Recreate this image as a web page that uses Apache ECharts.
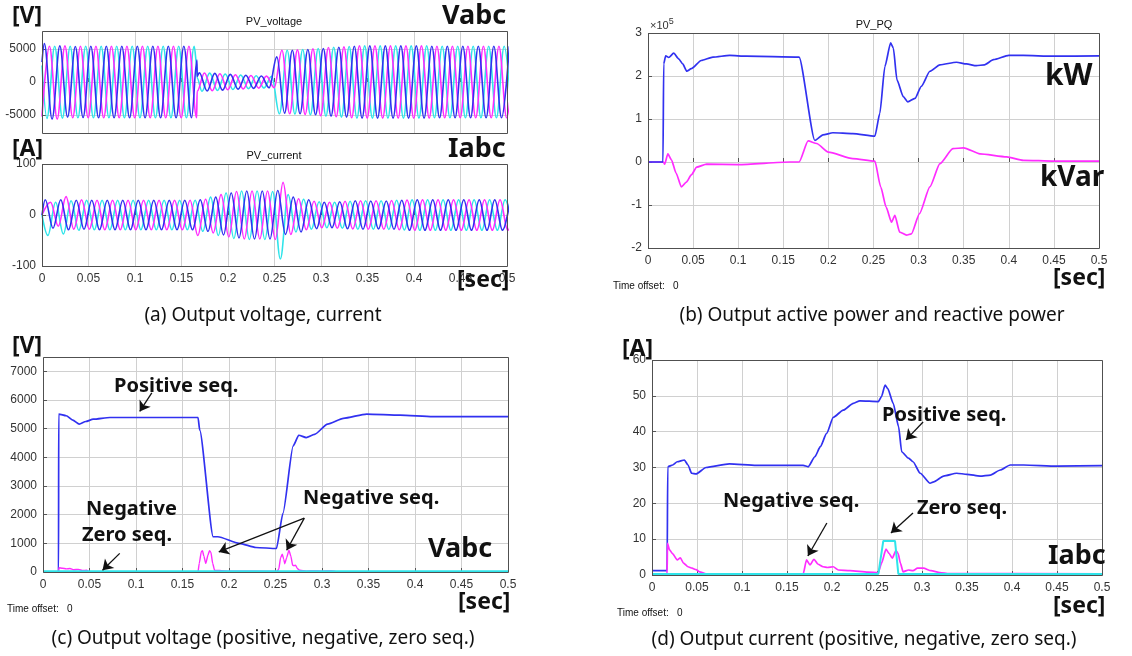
<!DOCTYPE html>
<html>
<head>
<meta charset="utf-8">
<script src="https://cdn.jsdelivr.net/npm/echarts@6/dist/echarts.min.js"></script>
<style>
  html, body { margin: 0; padding: 0; background: #fff; }
  #chart { width: 1132px; height: 656px; }
</style>
</head>
<body>
<div id="chart"></div>
<script>

// (a) three-phase waveforms (60 Hz), kept as successive half-cycle peaks
const HALF_CYCLE = 1 / 120

// PV_voltage [V]
const voltStart = [3000, -5200, 2500]          // value at t = 0 for phase a, b, c
const voltFirstPeak = [0.0025, 0.0080, 0.0053] // time of first listed peak
const voltPeaksA = [
  5800, -5600, 5450, -5300, 5350, -5350, 5400, -5400, 5400, -5400, 5400, -5400, 5400, -5400, 5400, -5400, 5400, -5400, 5400, -5400,
  1400, -1350, 1300, -1230, 1150, -1080, 1020, -960, 910, -870,
  3800, -4700, 4800, -4800, 4900, -4950, 5050, -5150, 5250, -5300,
  5400, -5450, 5450, -5450, 5450, -5450, 5450, -5450, 5450, -5450,
  5400, -5400, 5400, -5400, 5400, -5400, 5400, -5400, 5400, -5400, 5400
]
const voltPeaksB = [
  5400, -5600, 5450, -5400, 5400, -5400, 5400, -5400, 5400, -5400, 5400, -5400, 5400, -5400, 5400, -5400, 5400, -5400, 5400, -5400,
  1370, -1320, 1250, -1180, 1100, -1040, 980, -920, 880, -860,
  4800, -4800, 4850, -4900, 5000, -5100, 5200, -5250, 5300, -5400,
  5450, -5450, 5450, -5450, 5450, -5450, 5450, -5450, 5450, -5450,
  5400, -5400, 5400, -5400, 5400, -5400, 5400, -5400, 5400, -5400, 5400
]
const voltPeaksC = [
  -5500, 5400, -5450, 5400, -5400, 5400, -5400, 5400, -5400, 5400, -5400, 5400, -5400, 5400, -5400, 5400, -5400, 5400, -5400, 5400,
  -1400, 1340, -1280, 1200, -1130, 1060, -1000, 940, -890, 860,
  -4800, 4800, -4850, 4900, -4950, 5050, -5150, 5250, -5300, 5350,
  -5450, 5450, -5450, 5450, -5450, 5450, -5450, 5450, -5450, 5450,
  -5400, 5400, -5400, 5400, -5400, 5400, -5400, 5400, -5400, 5400, -5400
]
// the sag starts abruptly: value just before / just after the cut
const voltCutA = [[0.1666, 3300], [0.1668, 850]]
const voltCutB = [[0.1666, -5400], [0.1668, -1400]]
const voltCutC = [[0.1666, 2300], [0.1668, 600]]

// PV_current [A]
const currStart = [0, 0, 0]
const currFirstPeak = [0.0035, 0.0092, 0.0063]
const currPeaksA = [
  30, -26, 30, -29, 29, -28, 29, -29, 29, -29, 29, -29, 29, -29, 29, -29, 29, -29, 29, -29,
  30, -32, 35, -39, 43, -45, 47, -47, 47, -47,
  48, -38, 35, -33, 30, -27, 25, -25, 26, -27,
  28, -28, 27.5, -27.5, 27.5, -28, 29, -30, 30, -30,
  30, -30, 30, -30, 30, -30, 30, -30, 30, -30, 30
]
const currPeaksB = [
  25, -22, 36, -28, 30, -28, 29, -29, 29, -29, 29, -29, 29, -29, 29, -29, 29, -29, 29, -40,
  31, -35, 40, -43, 46, -47, 47, -47, 47, -48,
  64, -38, 32, -29, 27, -25, 25, -26, 27, -27.5,
  28, -28, 28, -28, 28.5, -29, 29.5, -30, 30, -30,
  30, -30, 30, -30, 30, -30, 30, -30, 30, -30, 30
]
const currPeaksC = [
  -40, 25, -37, 28, -30, 29, -29, 29, -29, 29, -29, 29, -29, 29, -29, 29, -29, 29, -29, 29,
  -32, 35, -40, 43, -46, 47, -48, 47, -48, 46,
  -86, 40, -33, 31, -28, 26, -25, 25, -26, 27,
  -28, 28, -28, 28, -28.5, 29, -29.5, 30, -30, 30,
  -30, 30, -30, 30, -30, 30, -30, 30, -30, 30, -30
]

// (b) PV_PQ, in units of 1e5
const pTime = [0, 0.0166, 0.0174, 0.0196, 0.023, 0.0285, 0.034, 0.0385, 0.043, 0.048,
  0.059, 0.072, 0.0906, 0.109, 0.1675, 0.185, 0.194, 0.205, 0.227, 0.2515,
  0.257, 0.2626, 0.269, 0.272, 0.276, 0.283, 0.288, 0.296, 0.303, 0.3125,
  0.3236, 0.342, 0.353, 0.364, 0.373, 0.383, 0.4, 0.416, 0.449, 0.5]
const pValue = [0, 0, 2.28, 2.47, 2.43, 2.53, 2.4, 2.28, 2.11, 2.17,
  2.36, 2.44, 2.48, 2.46, 2.44, 0.5, 0.63, 0.68, 0.66, 0.6,
  1.13, 2.22, 2.77, 2.65, 1.91, 1.52, 1.4, 1.48, 1.76, 2.11,
  2.26, 2.32, 2.28, 2.24, 2.26, 2.38, 2.48, 2.48, 2.46, 2.47]
const qTime = [0, 0.0172, 0.0185, 0.022, 0.026, 0.031, 0.037, 0.0425, 0.048, 0.054,
  0.065, 0.1, 0.157, 0.1675, 0.1775, 0.187, 0.2, 0.227, 0.2515, 0.258,
  0.264, 0.27, 0.2737, 0.279, 0.2866, 0.292, 0.301, 0.3125, 0.3236, 0.338,
  0.35, 0.368, 0.3976, 0.416, 0.45, 0.5]
const qValue = [0, 0, -0.05, 0.19, 0.05, -0.25, -0.58, -0.47, -0.3, -0.12,
  -0.05, -0.06, 0, 0, 0.49, 0.43, 0.23, 0.08, 0.02, -0.58,
  -1.05, -1.4, -1.24, -1.63, -1.7, -1.67, -1.2, -0.58, -0.04, 0.31,
  0.33, 0.19, 0.12, 0.04, 0.02, 0.02]

// (c) voltage sequence components [V]
const vPosTime = [0, 0.0167, 0.0169, 0.025, 0.032, 0.039, 0.046, 0.054, 0.072, 0.1,
  0.13, 0.1667, 0.1685, 0.183, 0.188, 0.211, 0.229, 0.251, 0.258, 0.269,
  0.275, 0.283, 0.292, 0.306, 0.323, 0.348, 0.384, 0.419, 0.5]
const vPosValue = [0, 0, 5510, 5450, 5300, 5160, 5250, 5330, 5390, 5390,
  5390, 5390, 4950, 1230, 1230, 1000, 855, 820, 2050, 4400,
  4770, 4690, 4800, 5160, 5360, 5510, 5470, 5420, 5420]
const vNegTime = [0, 0.0168, 0.0172, 0.021, 0.025, 0.029, 0.033, 0.038, 0.043, 0.047, 0.05,
  0.1667, 0.168, 0.1703, 0.1715, 0.173, 0.175, 0.1775, 0.179, 0.1805, 0.1825, 0.1845, 0.2,
  0.2515, 0.2535, 0.2555, 0.2573, 0.2588, 0.26, 0.262, 0.2645, 0.2665, 0.2685, 0.27, 0.2715, 0.2735, 0.276,
  0.283, 0.29, 0.3, 0.31, 0.315, 0.5]
const vNegValue = [0, 0, 150, 130, 110, 120, 80, 90, 50, 60, 10,
  10, 300, 720, 740, 550, 300, 600, 740, 690, 300, 60, 30,
  20, 100, 500, 620, 450, 290, 500, 760, 550, 230, 220, 240, 120, 60,
  30, 40, 30, 40, 10, 10]
const vZeroTime = [0, 0.5]
const vZeroValue = [15, 15]

// (d) current sequence components [A]
const iPosTime = [0, 0.0168, 0.0175, 0.023, 0.028, 0.036, 0.04, 0.044, 0.049, 0.06,
  0.086, 0.116, 0.168, 0.1735, 0.181, 0.187, 0.194, 0.2014, 0.2125, 0.2237,
  0.231, 0.2515, 0.255, 0.259, 0.262, 0.268, 0.274, 0.2774, 0.285, 0.29,
  0.298, 0.309, 0.313, 0.324, 0.3386, 0.35, 0.3646, 0.376, 0.387, 0.398,
  0.413, 0.45, 0.5]
const iPosValue = [1.2, 1.2, 30.2, 30.7, 31.6, 32.1, 30.7, 28.4, 28.2, 30,
  31, 30.6, 30.6, 30.2, 33, 35.8, 39.5, 44, 46, 47.9,
  48.6, 48.4, 49.8, 53, 52, 47.9, 41.4, 34.4, 32.6, 31.6,
  28.4, 25.6, 26, 27.6, 28.4, 28.1, 27.6, 27.9, 29.3, 30.7,
  30.7, 30.4, 30.5]
const iNegTime = [0, 0.0168, 0.0172, 0.0195, 0.023, 0.028, 0.0315, 0.035, 0.04, 0.0445,
  0.049, 0.053, 0.06, 0.168, 0.1717, 0.1755, 0.18, 0.1845, 0.19, 0.195,
  0.2014, 0.207, 0.22, 0.24, 0.2515, 0.255, 0.26, 0.2635, 0.267, 0.271,
  0.2735, 0.276, 0.279, 0.285, 0.29, 0.295, 0.3016, 0.31, 0.32, 0.33, 0.5]
const iNegValue = [0.3, 0.3, 8.8, 7, 5.9, 4.2, 4.8, 3.3, 2.3, 1.9,
  1.5, 0.9, 0.3, 0.3, 4.2, 2.8, 4.4, 3, 2.3, 2.1,
  2.3, 1.4, 1.2, 0.8, 0.7, 3.3, 7.2, 6, 4.7, 6.8,
  6, 3.3, 0.9, 1.4, 1.2, 1.9, 1.9, 1.2, 0.7, 0.4, 0.3]
const iZeroTime = [0, 0.2515, 0.257, 0.27, 0.2737, 0.5]
const iZeroValue = [0.3, 0.3, 9.5, 9.5, 0.3, 0.3]

// ---------- helpers ----------
const BLUE = '#3131f0'
const MAGENTA = '#ff2cff'
const CYAN = '#2fe4ea'
const TICK_FONT = '"Liberation Sans", Arial, sans-serif'
const TEXT_FONT = '"Noto Sans", "Open Sans", sans-serif'

function wave(start, t0, peaks, extra) {
  const pts = [[0, start]]
  peaks.forEach((v, k) => pts.push([t0 + k * HALF_CYCLE, v]))
  if (extra) extra.forEach(p => pts.push(p))
  return pts.sort((a, b) => a[0] - b[0])
}
function zip(ts, vs) {
  return ts.map((t, i) => [t, vs[i]])
}

// plot boxes (left, top, width, height)
const boxes = [
  [42, 31, 465, 102],   // (a) voltage
  [42, 164, 465, 102],  // (a) current
  [648, 33, 451, 215],  // (b)
  [43, 357, 465, 215],  // (c)
  [652, 360, 450, 215]  // (d)
]

const plain = v => String(v)

function xAxis(i, showLabel) {
  return {
    type: 'value', gridIndex: i, min: 0, max: 0.5, interval: 0.05,
    axisLine: { show: false },
    axisTick: { show: true, inside: true, length: 4, lineStyle: { color: '#555' } },
    splitLine: { show: true, lineStyle: { color: '#d0d0d0', width: 1 } },
    axisLabel: {
      show: showLabel, margin: 7, color: '#333', fontSize: 12, fontFamily: TICK_FONT,
      formatter: v => String(+v.toFixed(2))
    }
  }
}
function yAxis(i, opts, labelExtra, tickExtra) {
  return Object.assign({
    type: 'value', gridIndex: i,
    axisLine: { show: false },
    axisTick: Object.assign({ show: true, inside: true, length: 4, lineStyle: { color: '#555' } }, tickExtra),
    splitLine: { show: true, lineStyle: { color: '#d0d0d0', width: 1 } },
    axisLabel: Object.assign({ margin: 6, color: '#333', fontSize: 12, fontFamily: TICK_FONT, formatter: plain }, labelExtra)
  }, opts)
}

function line(i, data, color, extra) {
  return Object.assign({
    type: 'line', xAxisIndex: i, yAxisIndex: i, data,
    showSymbol: false, symbol: 'none', animation: false, silent: true,
    lineStyle: { color, width: 1.7 }, itemStyle: { color }
  }, extra)
}
function waveLine(i, data, color) {
  return line(i, data, color, { smooth: 0.36, smoothMonotone: 'x', lineStyle: { color, width: 1.6 } })
}
function arrows(list) {
  return {
    silent: true, animation: false, symbol: ['none', 'arrow'], symbolSize: 10,
    label: { show: false },
    emphasis: { disabled: true },
    itemStyle: { color: '#111' },
    lineStyle: { color: '#111', width: 1.3, type: 'solid' },
    data: list.map(a => [{ coord: a[0] }, { coord: a[1] }])
  }
}

function text(str, x, y, font, align) {
  return {
    type: 'text', x, y, z: 200, silent: true,
    style: {
      text: str, font, fill: '#111',
      textAlign: align || 'left', textVerticalAlign: 'middle',
      align: align || 'left', verticalAlign: 'middle'
    }
  }
}
const UNIT = 'bold 23px ' + TEXT_FONT
const BIG = 'bold 27px ' + TEXT_FONT
const NOTE = 'bold 20px ' + TEXT_FONT
const CAPTION = '19px ' + TEXT_FONT
const SMALL = '11px ' + TICK_FONT
const OFFSET = '10px ' + TICK_FONT

// ---------- chart ----------
const chart = echarts.init(document.getElementById('chart'))

const frames = boxes.map(b => ({
  type: 'rect', z: 150, silent: true,
  shape: { x: b[0] + 0.5, y: b[1] + 0.5, width: b[2], height: b[3] },
  style: { fill: 'none', stroke: '#505050', lineWidth: 1 }
}))

const voltTicks = [-5000, 0, 5000]

const option = {
  backgroundColor: '#fff',
  animation: false,
  grid: boxes.map(b => ({ left: b[0], top: b[1], width: b[2], height: b[3], containLabel: false })),
  xAxis: [xAxis(0, false), xAxis(1, true), xAxis(2, true), xAxis(3, true), xAxis(4, true)],
  yAxis: [
    yAxis(0, { min: -7700, max: 7700 }, { customValues: voltTicks }, { customValues: voltTicks }),
    yAxis(1, { min: -100, max: 100, interval: 100 }),
    yAxis(2, { min: -2, max: 3, interval: 1 }),
    yAxis(3, { min: 0, max: 7500, interval: 1000 }, { showMaxLabel: false }),
    yAxis(4, { min: 0, max: 60, interval: 10 })
  ],
  series: [
    // (a) voltage
    waveLine(0, wave(voltStart[2], voltFirstPeak[2], voltPeaksC, voltCutC), CYAN),
    waveLine(0, wave(voltStart[1], voltFirstPeak[1], voltPeaksB, voltCutB), MAGENTA),
    waveLine(0, wave(voltStart[0], voltFirstPeak[0], voltPeaksA, voltCutA), BLUE),
    // (a) current
    waveLine(1, wave(currStart[2], currFirstPeak[2], currPeaksC), CYAN),
    waveLine(1, wave(currStart[1], currFirstPeak[1], currPeaksB), MAGENTA),
    waveLine(1, wave(currStart[0], currFirstPeak[0], currPeaksA), BLUE),
    // (b)
    line(2, zip(qTime, qValue), MAGENTA, { smooth: 0.2, smoothMonotone: 'x' }),
    line(2, zip(pTime, pValue), BLUE, { smooth: 0.2, smoothMonotone: 'x' }),
    // (c)
    line(3, zip(vPosTime, vPosValue), BLUE, {
      smooth: 0.2, smoothMonotone: 'x',
      markLine: arrows([
        [[0.117, 6250], [0.104, 5600]],
        [[0.0825, 650], [0.064, 60]],
        [[0.281, 1880], [0.189, 700]],
        [[0.281, 1880], [0.262, 760]]
      ])
    }),
    line(3, zip(vNegTime, vNegValue), MAGENTA, { smooth: 0.2, smoothMonotone: 'x', lineStyle: { color: MAGENTA, width: 1.4 } }),
    line(3, zip(vZeroTime, vZeroValue), CYAN, { lineStyle: { color: CYAN, width: 2.6 } }),
    // (d)
    line(4, zip(iPosTime, iPosValue), BLUE, {
      smooth: 0.2, smoothMonotone: 'x',
      markLine: arrows([
        [[0.3012, 42.7], [0.2822, 37.7]],
        [[0.1943, 14.5], [0.1732, 5.3]],
        [[0.29, 17.3], [0.2655, 11.7]]
      ])
    }),
    line(4, zip(iNegTime, iNegValue), MAGENTA, { smooth: 0.2, smoothMonotone: 'x' }),
    line(4, zip(iZeroTime, iZeroValue), CYAN, { lineStyle: { color: CYAN, width: 2 } })
  ],
  graphic: frames.concat([
    // (a)
    text('[V]', 12, 16, UNIT),
    text('PV_voltage', 274, 22, SMALL, 'center'),
    text('Vabc', 442, 16, BIG),
    text('[A]', 12, 149, UNIT),
    text('PV_current', 274, 156, SMALL, 'center'),
    text('Iabc', 448, 149, BIG),
    text('[sec]', 457, 280, UNIT),
    text('(a) Output voltage, current', 263, 316, CAPTION, 'center'),
    // (b)
    {
      type: 'text', x: 650, y: 26, z: 200, silent: true,
      style: {
        text: '{a|×10}{b|5}', fill: '#333', textVerticalAlign: 'middle', verticalAlign: 'middle',
        rich: { a: { font: SMALL, fill: '#333' }, b: { font: '9px ' + TICK_FONT, fill: '#333', verticalAlign: 'top', padding: [0, 0, 8, 0] } }
      }
    },
    text('PV_PQ', 874, 25, SMALL, 'center'),
    text('kW', 1045, 76, 'bold 30px ' + TEXT_FONT),
    text('kVar', 1040, 178, 'bold 28px ' + TEXT_FONT),
    text('[sec]', 1053, 278, UNIT),
    text('Time offset:   0', 613, 286, OFFSET),
    text('(b) Output active power and reactive power', 872, 316, CAPTION, 'center'),
    // (c)
    text('[V]', 12, 346, UNIT),
    text('Positive seq.', 114, 386, NOTE),
    text('Negative', 86, 509, NOTE),
    text('Zero seq.', 82, 535, NOTE),
    text('Negative seq.', 303, 498, NOTE),
    text('Vabc', 428, 549, BIG),
    text('[sec]', 458, 602, UNIT),
    text('Time offset:   0', 7, 609, OFFSET),
    text('(c) Output voltage (positive, negative, zero seq.)', 263, 639, CAPTION, 'center'),
    // (d)
    text('[A]', 622, 349, UNIT),
    text('Positive seq.', 882, 415, NOTE),
    text('Negative seq.', 723, 501, NOTE),
    text('Zero seq.', 917, 508, NOTE),
    text('Iabc', 1048, 556, BIG),
    text('[sec]', 1053, 606, UNIT),
    text('Time offset:   0', 617, 613, OFFSET),
    text('(d) Output current (positive, negative, zero seq.)', 864, 640, CAPTION, 'center')
  ])
}

chart.setOption(option)
</script>
</body>
</html>
